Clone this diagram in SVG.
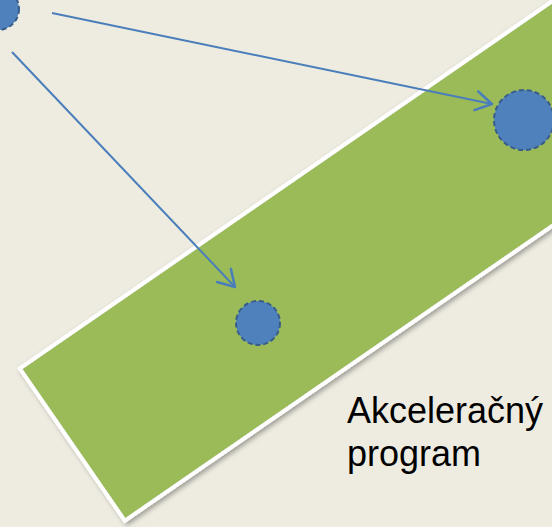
<svg xmlns="http://www.w3.org/2000/svg" width="552" height="527" viewBox="0 0 552 527">
  <defs>
    <filter id="shadow" x="-20%" y="-20%" width="140%" height="140%">
      <feDropShadow dx="1" dy="3" stdDeviation="2.5" flood-color="#000" flood-opacity="0.35"/>
    </filter>
    <marker id="open" markerUnits="userSpaceOnUse" viewBox="-20 -12 22 24" markerWidth="22" markerHeight="24" refX="0" refY="0" orient="auto" overflow="visible">
      <path d="M-16,-9.5 L0,0 L-16,9.5" fill="none" stroke="#4a7ebb" stroke-width="2.5" stroke-linecap="round" stroke-linejoin="round"/>
    </marker>
    <style>
      .node { fill: #4f81bd; stroke: #385d8a; stroke-width: 2; stroke-dasharray: 5 3; }
      .conn { stroke: #4a7ebb; stroke-width: 2; fill: none; marker-end: url(#open); }
      .label { font-family: "Liberation Sans", Arial, sans-serif; font-size: 36px; fill: #000; }
    </style>
  </defs>
  <rect width="552" height="527" fill="#eeece1"/>
  <g id="band">
    <rect x="19" y="370" width="900" height="185" fill="#9bbb59" stroke="#ffffff" stroke-width="4" transform="rotate(-34.6 17 368)" filter="url(#shadow)"/>
  </g>
  <g id="node-source">
    <circle class="node" cx="-2" cy="9" r="21"/>
  </g>
  <g id="node-target-right">
    <circle class="node" cx="524" cy="120" r="30"/>
  </g>
  <g id="node-target-inner">
    <circle class="node" cx="258" cy="323" r="22"/>
  </g>
  <g id="connectors">
    <line class="conn" x1="52" y1="13" x2="492" y2="104"/>
    <line class="conn" x1="12" y1="52" x2="235" y2="287"/>
  </g>
  <g id="label">
    <text class="label" x="347" y="423">Akceleračný</text>
    <text class="label" x="347" y="466">program</text>
  </g>
</svg>
